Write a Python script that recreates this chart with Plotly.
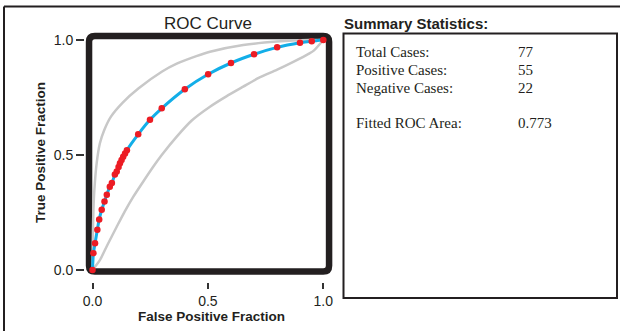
import plotly.graph_objects as go

# ---- data ----
fit_fpf = [0.0, 0.004, 0.011, 0.021, 0.029, 0.040, 0.052, 0.062, 0.075, 0.084, 0.097, 0.105,
           0.113, 0.119, 0.126, 0.133, 0.141, 0.149, 0.198, 0.249, 0.300, 0.400, 0.501,
           0.600, 0.700, 0.800, 0.899, 0.950, 1.0]
fit_tpf = [0.0, 0.073, 0.116, 0.175, 0.220, 0.262, 0.298, 0.327, 0.362, 0.378, 0.415, 0.428,
           0.448, 0.464, 0.478, 0.492, 0.506, 0.521, 0.590, 0.653, 0.703, 0.786, 0.851,
           0.900, 0.938, 0.968, 0.988, 0.995, 1.0]

upper_fpf = [0.0, 0.001, 0.002, 0.004, 0.008, 0.018, 0.032, 0.051, 0.080, 0.131, 0.200,
             0.300, 0.365, 0.450, 0.509, 0.653, 0.798, 0.940, 1.0]
upper_tpf = [0.0, 0.09, 0.175, 0.261, 0.348, 0.464, 0.551, 0.609, 0.667, 0.728, 0.790,
             0.862, 0.897, 0.930, 0.949, 0.978, 0.993, 1.0, 1.0]

lower_fpf = [0.0, 0.032, 0.065, 0.105, 0.140, 0.177, 0.220, 0.263, 0.300, 0.365, 0.430,
             0.509, 0.580, 0.653, 0.720, 0.798, 0.870, 0.940, 0.960, 1.0]
lower_tpf = [0.0, 0.043, 0.110, 0.188, 0.255, 0.319, 0.385, 0.449, 0.500, 0.580, 0.650,
             0.710, 0.755, 0.797, 0.835, 0.870, 0.905, 0.942, 0.955, 1.0]

tick_vals = [0.0, 0.5, 1.0]
tick_text = ["0.0", "0.5", "1.0"]

stat_labels = ["Total Cases:", "Positive Cases:", "Negative Cases:", "Fitted ROC Area:"]
stat_values = ["77", "55", "22", "0.773"]

# ---- layout geometry (pixels) ----
W, H = 620, 331
L, R, T, B = 85, 334, 31, 282   # plot area
def px(x):
    return (x - L) / (R - L)
def py(y):
    return (B - y) / (B - T)

SANS = "Liberation Sans, Arial, sans-serif"
SERIF = "Liberation Serif, Times New Roman, serif"

fig = go.Figure()
fig.add_trace(go.Scatter(x=upper_fpf, y=upper_tpf, mode="lines",
                         line=dict(color="#c8c8c8", width=2.5, shape="spline", smoothing=0.8),
                         hoverinfo="skip", showlegend=False))
fig.add_trace(go.Scatter(x=lower_fpf, y=lower_tpf, mode="lines",
                         line=dict(color="#c8c8c8", width=2.5, shape="spline", smoothing=0.6),
                         hoverinfo="skip", showlegend=False))
fig.add_trace(go.Scatter(x=fit_fpf, y=fit_tpf, mode="lines",
                         line=dict(color="#12aee8", width=3, shape="spline", smoothing=0.8),
                         showlegend=False))
fig.add_trace(go.Scatter(x=fit_fpf, y=fit_tpf, mode="markers",
                         marker=dict(color="#ec1c24", size=6.5, line=dict(width=0)),
                         showlegend=False))

# rounded thick frame around the plot
x0, x1, y0, y1 = -0.015, 1.025, -0.0065, 1.017
r = 0.025
path = (f"M {x0+r},{y0} L {x1-r},{y0} Q {x1},{y0} {x1},{y0+r} "
        f"L {x1},{y1-r} Q {x1},{y1} {x1-r},{y1} "
        f"L {x0+r},{y1} Q {x0},{y1} {x0},{y1-r} "
        f"L {x0},{y0+r} Q {x0},{y0} {x0+r},{y0} Z")
shapes = [dict(type="path", path=path, xref="x", yref="y", layer="below",
               line=dict(color="#231f20", width=6.5))]

# outer page frame (top + left)
shapes.append(dict(type="line", xref="paper", yref="paper",
                   x0=px(4), x1=px(625), y0=py(6.5), y1=py(6.5),
                   line=dict(color="#231f20", width=2)))
shapes.append(dict(type="line", xref="paper", yref="paper",
                   x0=px(4), x1=px(4), y0=py(6.5), y1=py(340),
                   line=dict(color="#231f20", width=2)))
# summary box
shapes.append(dict(type="rect", xref="paper", yref="paper",
                   x0=px(343.5), x1=px(617), y0=py(298), y1=py(33.5),
                   line=dict(color="#231f20", width=2)))

annotations = [
    dict(text="ROC Curve", x=px(207.5), y=py(23.5), xref="paper", yref="paper",
         showarrow=False, xanchor="center", yanchor="middle",
         font=dict(family=SANS, size=17, color="#231f20")),
    dict(text="<b>False Positive Fraction</b>", x=px(211), y=py(317), xref="paper", yref="paper",
         showarrow=False, xanchor="center", yanchor="middle",
         font=dict(family=SANS, size=13.5, color="#231f20")),
    dict(text="<b>True Positive Fraction</b>", x=px(40), y=py(153), xref="paper", yref="paper",
         showarrow=False, xanchor="center", yanchor="middle", textangle=-90,
         font=dict(family=SANS, size=13.5, color="#231f20")),
    dict(text="<b>Summary Statistics:</b>", x=px(342), y=py(23), xref="paper", yref="paper",
         showarrow=False, xanchor="left", yanchor="middle",
         font=dict(family=SANS, size=15, color="#231f20")),
]
row_y = [52, 70, 88, 123]
for lab, val, yy in zip(stat_labels, stat_values, row_y):
    annotations.append(dict(text=lab, x=px(354), y=py(yy), xref="paper", yref="paper",
                            showarrow=False, xanchor="left", yanchor="middle",
                            font=dict(family=SERIF, size=15, color="#231f20")))
    annotations.append(dict(text=val, x=px(516), y=py(yy), xref="paper", yref="paper",
                            showarrow=False, xanchor="left", yanchor="middle",
                            font=dict(family=SERIF, size=15, color="#231f20")))

fig.update_layout(
    width=W, height=H,
    margin=dict(l=L, r=W - R, t=T, b=H - B, pad=0),
    paper_bgcolor="white", plot_bgcolor="white",
    shapes=shapes, annotations=annotations,
    xaxis=dict(range=[(L - 92.5) / 230.8, (R - 92.5) / 230.8], showgrid=False, zeroline=False,
               showline=False, tickmode="array", tickvals=tick_vals, ticktext=tick_text,
               ticks="outside", ticklen=6, tickwidth=1.5, tickcolor="#333333",
               tickfont=dict(family=SANS, size=14, color="#231f20"), fixedrange=True),
    yaxis=dict(range=[(270 - B) / 230.0, (270 - T) / 230.0], showgrid=False, zeroline=False,
               showline=False, tickmode="array", tickvals=tick_vals, ticktext=tick_text,
               ticks="outside", ticklen=8, tickwidth=1.5, tickcolor="#333333",
               tickfont=dict(family=SANS, size=14, color="#231f20"), fixedrange=True),
)

fig.write_html("out.html", config={"displayModeBar": False},
               post_script="document.body.style.margin='0px';document.body.style.overflow='hidden';")
